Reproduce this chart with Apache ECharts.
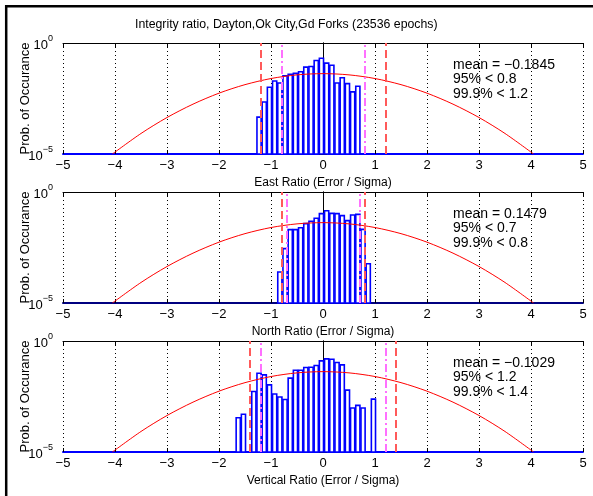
<!DOCTYPE html>
<html>
<head>
<meta charset="utf-8">
<script src="https://cdn.jsdelivr.net/npm/echarts@6/dist/echarts.min.js"></script>
<style>
html, body { margin: 0; padding: 0; background: #fff; }
#main { width: 593px; height: 496px; }
</style>
</head>
<body>
<div id="main"></div>
<script>
var titleText = 'Integrity ratio, Dayton,Ok City,Gd Forks (23536 epochs)'
var axisNames = ['East Ratio (Error / Sigma)', 'North Ratio (Error / Sigma)', 'Vertical Ratio (Error / Sigma)']
var yName = 'Prob. of Occurance'
var xTickLabels = ['−5', '−4', '−3', '−2', '−1', '0', '1', '2', '3', '4', '5']

// histogram bin centres and probabilities
var eastX = [-1.23, -1.13, -1.03, -0.93, -0.83, -0.73, -0.63, -0.53, -0.43, -0.33, -0.23, -0.13, -0.03, 0.07, 0.17, 0.27, 0.37, 0.47, 0.57, 0.67]
var eastP = [4.6e-4, 2.2e-3, 0.0101, 0.0195, 0.0158, 0.0337, 0.0386, 0.0428, 0.0507, 0.082, 0.0877, 0.163, 0.207, 0.124, 0.10, 0.0158, 0.0274, 0.0148, 0.0063, 0.0112]
var northX = [-0.83, -0.73, -0.63, -0.53, -0.43, -0.33, -0.23, -0.13, -0.03, 0.07, 0.17, 0.27, 0.37, 0.47, 0.57, 0.67, 0.77, 0.87]
var northP = [2.5e-4, 2.8e-3, 0.0201, 0.0201, 0.0247, 0.0375, 0.0478, 0.0652, 0.106, 0.144, 0.109, 0.106, 0.086, 0.0512, 0.092, 0.0986, 0.0208, 5.9e-4]
var vertX = [-1.63, -1.53, -1.33, -1.23, -1.13, -1.03, -0.93, -0.83, -0.73, -0.63, -0.53, -0.43, -0.33, -0.23, -0.13, -0.03, 0.07, 0.17, 0.27, 0.37, 0.47, 0.57, 0.67, 0.77, 0.97]
var vertP = [3.5e-4, 5.0e-4, 5.3e-3, 0.0355, 0.0299, 0.0106, 4.1e-3, 3.0e-3, 2.3e-3, 0.0212, 0.0484, 0.0484, 0.0637, 0.0659, 0.0783, 0.127, 0.156, 0.151, 0.107, 0.084, 6.1e-3, 9.6e-4, 1.26e-3, 9.6e-4, 2.4e-3]

// normal curve drawn in red
var curveX = [-4.05, -3.5, -3, -2.5, -2, -1.5, -1, -0.5, 0, 0.5, 1, 1.5, 2, 2.5, 3, 3.5, 4.05]
var curveP = [1e-5, 8.4e-5, 4.4e-4, 1.76e-3, 5.5e-3, 0.0133, 0.0251, 0.0367, 0.0417, 0.0367, 0.0251, 0.0133, 5.5e-3, 1.76e-3, 4.4e-4, 8.4e-5, 1e-5]

var means = ['−0.1845', '0.1479', '−0.1029']
var lim95 = [0.8, 0.7, 1.2]
var lim999 = [1.2, 0.8, 1.4]

var FONT = '"Liberation Sans", Arial, Helvetica, sans-serif'
var tops = [43, 192, 341]
var baseColors = ['#0000ff', '#000080', '#0000ff']
var histX = [eastX, northX, vertX]
var histP = [eastP, northP, vertP]

var chart = echarts.init(document.getElementById('main'), null, { renderer: 'canvas' })

function yLabel(v) {
    var e = Math.round(Math.log(v) / Math.LN10)
    if (e === 0) return '{b|10}{s|0}'
    if (e === -5) return '{b|10}{s|−5}'
    return ''
}

var option = {
    animation: false,
    backgroundColor: '#fff',
    title: {
        text: titleText,
        left: 135,
        top: 19,
        padding: 0,
        textStyle: { fontFamily: FONT, fontSize: 12.3, fontWeight: 'normal', color: '#000' }
    },
    grid: [],
    xAxis: [],
    yAxis: [],
    series: [],
    graphic: [
        { type: 'line', shape: { x1: 5, y1: 6.2, x2: 593, y2: 6.2 }, style: { stroke: '#000', lineWidth: 2.5 } },
        { type: 'line', shape: { x1: 6.2, y1: 5, x2: 6.2, y2: 496 }, style: { stroke: '#000', lineWidth: 2.5 } }
    ]
}

for (var i = 0; i < 3; i++) {
    option.grid.push({ left: 63, top: tops[i], width: 520, height: 111, containLabel: false, outerBoundsMode: 'none' })
    option.xAxis.push({
        type: 'value', gridIndex: i, min: -5, max: 5, interval: 1, position: 'bottom',
        name: axisNames[i], nameLocation: 'middle', nameGap: 23,
        nameTextStyle: { fontFamily: FONT, fontSize: 12, color: '#000' },
        axisLine: { onZero: false, lineStyle: { color: baseColors[i], width: 2 } },
        axisTick: { inside: true, length: 4, lineStyle: { color: '#000' } },
        axisLabel: {
            margin: 5, fontFamily: FONT, fontSize: 13, color: '#000',
            formatter: function (v) { return xTickLabels[Math.round(v) + 5] }
        },
        splitLine: { show: true, lineStyle: { color: '#000', width: 1, type: [1, 3] } }
    })
    option.xAxis.push({
        type: 'value', gridIndex: i, min: -5, max: 5, interval: 1, position: 'top',
        axisLine: { onZero: false, lineStyle: { color: '#000', width: 1 } },
        axisTick: { inside: true, length: 4, lineStyle: { color: '#000' } },
        axisLabel: { show: false },
        splitLine: { show: false }
    })
    option.yAxis.push({
        type: 'log', logBase: 10, gridIndex: i, min: 1e-5, max: 1, interval: 1, position: 'left',
        name: yName, nameLocation: 'middle', nameGap: 31, nameRotate: 90, nameMoveOverlap: false,
        nameTextStyle: { fontFamily: FONT, fontSize: 13, color: '#000' },
        axisLine: { show: true, lineStyle: { color: '#000', width: 1 } },
        axisTick: { show: true, inside: true, length: 4, lineStyle: { color: '#000' } },
        axisLabel: {
            margin: 10, showMinLabel: true, showMaxLabel: true,
            formatter: yLabel,
            rich: {
                b: { fontFamily: FONT, fontSize: 13, color: '#000', lineHeight: 18, verticalAlign: 'bottom' },
                s: { fontFamily: FONT, fontSize: 9, color: '#000', lineHeight: 18, verticalAlign: 'top' }
            }
        },
        splitLine: { show: false }
    })
    option.yAxis.push({
        type: 'log', logBase: 10, gridIndex: i, min: 1e-5, max: 1, interval: 1, position: 'right',
        axisLine: { show: true, lineStyle: { color: '#000', width: 1 } },
        axisTick: { show: true, inside: true, length: 4, lineStyle: { color: '#000' } },
        axisLabel: { show: false },
        splitLine: { show: false }
    })

    var bars = histX[i].map(function (x, k) { return [x, histP[i][k]] })
    option.series.push({
        type: 'custom',
        xAxisIndex: 2 * i, yAxisIndex: 2 * i,
        encode: { x: 0, y: 1 },
        z: 2,
        data: bars,
        renderItem: function (params, api) {
            var x = api.value(0)
            var p0 = api.coord([x - 0.04, api.value(1)])
            var p1 = api.coord([x + 0.04, 1e-5])
            return {
                type: 'rect',
                shape: { x: p0[0], y: p0[1], width: p1[0] - p0[0], height: p1[1] - p0[1] },
                style: { fill: '#fff', stroke: '#0000ff', lineWidth: 1.6 }
            }
        }
    })
    option.series.push({
        type: 'line',
        xAxisIndex: 2 * i, yAxisIndex: 2 * i,
        z: 3,
        smooth: 0.3,
        showSymbol: false,
        lineStyle: { color: '#ff0000', width: 1 },
        data: curveX.map(function (x, k) { return [x, curveP[k]] }),
        markLine: {
            silent: true,
            symbol: 'none',
            label: { show: false },
            data: [
                { xAxis: -lim999[i], lineStyle: { color: '#ff5a5a', width: 2, type: [8, 4] } },
                { xAxis: lim999[i], lineStyle: { color: '#ff5a5a', width: 2, type: [8, 4] } },
                { xAxis: -lim95[i], lineStyle: { color: '#ff70ff', width: 2, type: [8, 3, 2, 3] } },
                { xAxis: lim95[i], lineStyle: { color: '#ff70ff', width: 2, type: [8, 3, 2, 3] } }
            ]
        }
    })

    var texts = ['mean = ' + means[i], '95% < ' + lim95[i], '99.9% < ' + lim999[i]]
    var offs = [22, 36, 51]
    for (var j = 0; j < 3; j++) {
        option.graphic.push({
            type: 'text', x: 453, y: tops[i] + offs[j], z: 10,
            style: { text: texts[j], fill: '#000', font: '14px ' + FONT, align: 'left', verticalAlign: 'middle' }
        })
    }
}

chart.setOption(option)
</script>
</body>
</html>
